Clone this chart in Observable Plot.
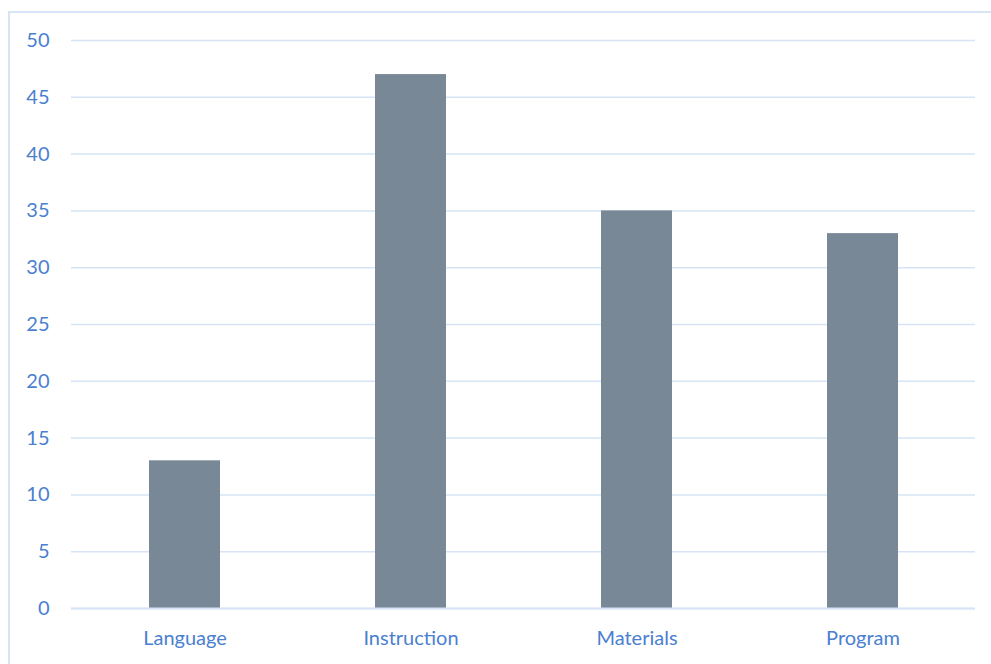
<!DOCTYPE html>
<html><head><meta charset="utf-8">
<script src="https://cdn.jsdelivr.net/npm/d3@7"></script>
<script src="https://cdn.jsdelivr.net/npm/@observablehq/plot@0.6"></script>
<style>
body{margin:0;background:#fff;}
#wrap{position:relative;width:991px;height:664px;overflow:hidden;}
#frame{position:absolute;left:8px;top:11px;width:1200px;height:900px;border:2px solid #d6e4f6;box-sizing:border-box;pointer-events:none;}
</style>
</head><body>
<div id="wrap"><div id="frame"></div></div>
<script>
const categories = ["Language","Instruction","Materials","Program"];
const values = [13,47,35,33];
const yTicks = [0,5,10,15,20,25,30,35,40,45,50];
const data = categories.map((c,i)=>({category:c, value:values[i]}));
const chart = Plot.plot({
  width:991, height:664,
  marginLeft:71, marginRight:16, marginTop:40, marginBottom:56,
  style:{fontFamily:"Lato, sans-serif", fontSize:"20px", color:"#4a80d0", background:"transparent"},
  x:{domain:categories, paddingInner:0.686, paddingOuter:0.343, label:null, tickSize:0, tickPadding:22},
  y:{domain:[0,50], ticks:yTicks, label:null, tickSize:0, tickPadding:22},
  marks:[
    Plot.gridY(yTicks,{stroke:"#d6e4f6", strokeOpacity:1, strokeWidth:1.5}),
    Plot.barY(data,{x:"category", y:"value", fill:"#788896"}),
    Plot.ruleY([0],{stroke:"#d6e4f6", strokeWidth:2}),
    Plot.axisX({fontSize:20, tickSize:0, tickPadding:22, label:null}),
    Plot.axisY(yTicks,{fontSize:20, tickSize:0, tickPadding:22, label:null})
  ]
});
chart.style.position="absolute"; chart.style.left="0"; chart.style.top="0";
document.getElementById("wrap").appendChild(chart);
</script>
</body></html>
